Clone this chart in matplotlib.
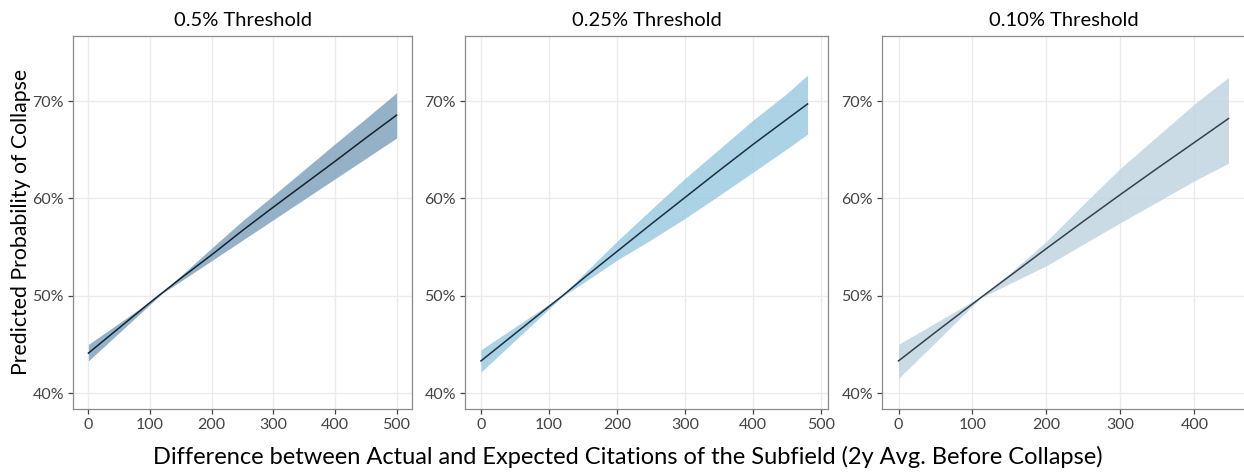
import matplotlib
matplotlib.use("Agg")
import matplotlib.pyplot as plt
from matplotlib.ticker import FuncFormatter

plt.rcParams['font.family'] = ['Lato', 'DejaVu Sans']

titel = ["0.5% Threshold", "0.25% Threshold", "0.10% Threshold"]

# Panel 1: 0.5 %
x1 = [0, 50, 100, 120, 150, 200, 250, 300, 350, 400, 450, 500]
fit1 = [44.1, 46.7, 49.3, 50.3, 51.8, 54.2, 56.7, 59.1, 61.45, 63.8, 66.2, 68.55]
lo1 = [43.3, 46.2, 49.1, 50.25, 51.5, 53.6, 55.7, 57.8, 59.9, 62.0, 64.1, 66.2]
hi1 = [45.0, 47.2, 49.4, 50.35, 52.05, 54.9, 57.7, 60.3, 62.95, 65.6, 68.2, 70.85]

# Panel 2: 0.25 %
x2 = [0, 50, 100, 120, 150, 200, 250, 300, 350, 400, 450, 480]
fit2 = [43.3, 46.1, 48.9, 50.0, 51.75, 54.55, 57.35, 60.1, 62.85, 65.55, 68.15, 69.7]
lo2 = [42.15, 45.4, 48.65, 49.95, 51.3, 53.66, 55.75, 57.95, 60.3, 62.7, 65.1, 66.6]
hi2 = [44.45, 46.78, 49.12, 50.1, 52.17, 55.6, 58.85, 62.06, 65.05, 68.05, 70.8, 72.67]

# Panel 3: 0.10 %
x3 = [0, 50, 100, 112, 150, 200, 250, 300, 350, 400, 446]
fit3 = [43.3, 46.25, 49.15, 49.85, 52.0, 54.85, 57.65, 60.4, 63.1, 65.75, 68.2]
lo3 = [41.5, 45.2, 48.96, 49.8, 51.24, 53.08, 55.3, 57.5, 59.65, 61.8, 63.6]
hi3 = [45.0, 47.2, 49.42, 49.95, 52.27, 55.6, 59.4, 63.1, 66.4, 69.7, 72.43]

daten = [(x1, fit1, lo1, hi1), (x2, fit2, lo2, hi2), (x3, fit3, lo3, hi3)]
farben = ["#81a4be", "#9ccae1", "#c2d5e2"]
linien = ["#15222e", "#1a3040", "#33414e"]
xlims = [(-25, 525), (-23.5, 510), (-22.3, 468.3)]
xticks = [[0, 100, 200, 300, 400, 500], [0, 100, 200, 300, 400, 500], [0, 100, 200, 300, 400]]
positionen = [(73, 339), (465, 363), (882, 363)]

fig = plt.figure(figsize=(12.44, 4.75), dpi=100)

for i in range(3):
    links, breite = positionen[i]
    ax = fig.add_axes([links / 1244, 1 - 409 / 475, breite / 1244, 373 / 475])
    x, fit, lo, hi = daten[i]
    ax.fill_between(x, lo, hi, color=farben[i], alpha=0.85, linewidth=0, zorder=2)
    ax.plot(x, fit, color=linien[i], linewidth=1.1, zorder=3)
    ax.set_xlim(*xlims[i])
    ax.set_ylim(38.36, 76.68)
    ax.set_xticks(xticks[i])
    ax.set_yticks([40, 50, 60, 70])
    ax.yaxis.set_major_formatter(FuncFormatter(lambda v, p: f"{v:.0f}%"))
    ax.grid(True, color="#ebebeb", linewidth=1.0, zorder=0)
    ax.set_axisbelow(True)
    for s in ax.spines.values():
        s.set_color("#8a8a8a")
        s.set_linewidth(0.9)
    ax.tick_params(colors="#444444", labelsize=11.5, length=3.5, width=0.9, pad=3)
    ax.set_title(titel[i], fontsize=14.5, pad=7)

fig.text(21 / 1244, 1 - 222 / 475, "Predicted Probability of Collapse",
         rotation=90, ha="center", va="center", fontsize=15.3)
fig.text(628 / 1244, 1 - 457 / 475,
         "Difference between Actual and Expected Citations of the Subfield (2y Avg. Before Collapse)",
         ha="center", va="center", fontsize=17)

fig.savefig("out.png", dpi=100)
